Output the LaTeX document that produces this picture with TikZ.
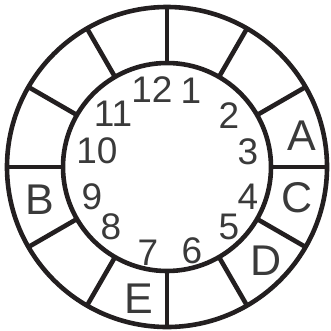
\documentclass[tikz,border=0pt]{standalone}
\usepackage{fontspec}
\setmainfont{Liberation Sans}
\usepackage{tikz}
\usetikzlibrary{calc}
\definecolor{ringline}{HTML}{231F20}
\definecolor{dialtext}{HTML}{3A3A3A}
\tikzset{
  hour/.style={inner sep=0pt, text=dialtext, font=\fontsize{37}{37}\selectfont},
  sector/.style={inner sep=0pt, text=dialtext, font=\fontsize{43}{43}\selectfont},
  ring/.style={line width=4.6pt, ringline}
}

\begin{document}
\begin{tikzpicture}[x=1pt, y=-1pt]
        \useasboundingbox (0,0) rectangle (331,330);
        \coordinate (c) at (167,167);

        % Rings
        \draw[ring] (c) circle[radius=160pt];
        \draw[ring] (c) circle[radius=104pt];

        % Dividers
        \foreach \a in {0,30,...,330} \draw[ring] ($(c)+(\a:104)$) -- ($(c)+(\a:160)$);

        % Hours
        \foreach \n/\x/\y in {1/191/91, 2/229/116, 3/248/152, 4/248/197, 5/229/227, 6/192/251,
                              7/148/253, 8/111/227, 9/92/197, 10/97/151, 11/113/114, 12/152/90}
            \node[hour] (num\n) at (\x,\y) {\n};

        % Sector labels
        \node[sector] (secA) at (302,136) {A};
        \node[sector] (secB) at (40,200) {B};
        \node[sector] (secC) at (297,198) {C};
        \node[sector] (secD) at (266,261) {D};
        \node[sector] (secE) at (139,299) {E};
\end{tikzpicture}
\end{document}
